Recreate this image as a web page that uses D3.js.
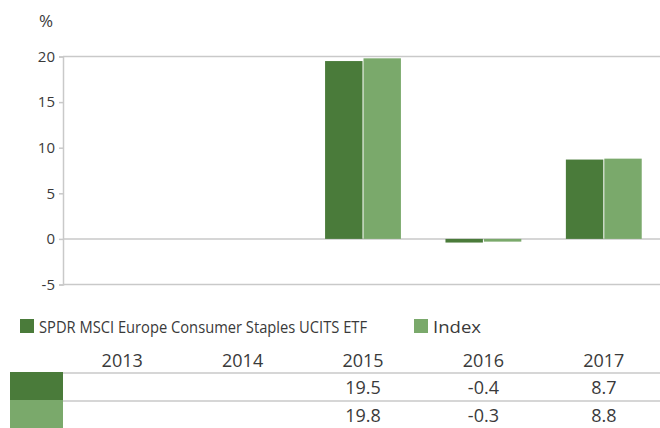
<!DOCTYPE html>
<html>
<head>
<meta charset="utf-8">
<script src="https://cdn.jsdelivr.net/npm/d3@7"></script>
<style>
  body { margin: 0; background: #fff; }
  svg text { font-family: "Open Sans", "Noto Sans", sans-serif; fill: #3a3a3a; }
</style>
</head>
<body>
<div id="vizcont"></div>
<script>
// chart data
var years = ["2013", "2014", "2015", "2016", "2017"];
var fundValues = [null, null, 19.5, -0.4, 8.7];
var indexValues = [null, null, 19.8, -0.3, 8.8];
var seriesNames = ["SPDR MSCI Europe Consumer Staples UCITS ETF", "Index"];
var yTicks = [-5, 0, 5, 10, 15, 20];

var colors = ["#4a7b3a", "#7aa96b"];
var gridColor = "#c9c9c9";

var width = 660, height = 428;

// plain hyphen for negatives, like the original
var fmtTick = function(d) { return String(d); };
var fmtVal = function(d) { return d3.format(".1f")(d).replace("\u2212", "-"); };

var svg = d3.select("#vizcont")
    .append("svg")
    .attr("width", width)
    .attr("height", height);

// scales
var x = d3.scaleBand()
    .domain(years)
    .range([62, 664])
    .paddingInner(0.37)
    .paddingOuter(0.185);
var xCol = d3.scaleBand().domain(years).range([62, 664]);
var x1 = d3.scaleBand().domain([0, 1]).range([0, x.bandwidth()]);
var y = d3.scaleLinear().domain([-5, 20]).range([284.5, 56.5]);

// grid lines at top, zero and bottom
svg.append("g")
    .selectAll("line")
    .data([20, 0, -5])
    .enter().append("line")
    .attr("x1", 63).attr("x2", width)
    .attr("y1", function(d) { return y(d); })
    .attr("y2", function(d) { return y(d); })
    .attr("stroke", gridColor)
    .attr("stroke-width", 1.5);

// y axis
var yAxis = svg.append("g")
    .attr("transform", "translate(63,0)")
    .call(d3.axisLeft(y).tickValues(yTicks).tickFormat(fmtTick).tickSize(4).tickPadding(4));
yAxis.select(".domain").attr("stroke", gridColor).attr("stroke-width", 1.5);
yAxis.selectAll(".tick line").attr("stroke", gridColor).attr("stroke-width", 1.5);
yAxis.selectAll(".tick text")
    .attr("font-size", 15)
    .attr("font-family", null)
    .attr("fill", null);

svg.append("text")
    .attr("x", 46).attr("y", 27)
    .attr("text-anchor", "middle")
    .attr("font-size", 17)
    .text("%");

// bars
var series = [fundValues, indexValues];
series.forEach(function(vals, si) {
    svg.append("g")
        .selectAll("rect")
        .data(years.map(function(yr, i) { return {year: yr, v: vals[i]}; })
            .filter(function(d) { return d.v !== null; }))
        .enter().append("rect")
        .attr("x", function(d) { return x(d.year) + x1(si) + (si === 1 ? 0.5 : 0); })
        .attr("width", x1.bandwidth() - 0.5)
        .attr("y", function(d) { return y(Math.max(0, d.v)); })
        .attr("height", function(d) { return Math.abs(y(d.v) - y(0)); })
        .attr("fill", colors[si]);
});

// legend
var legendX = [20, 414];
var legendLen = [328, 48];
var legend = svg.append("g");
seriesNames.forEach(function(name, i) {
    legend.append("rect")
        .attr("x", legendX[i]).attr("y", 319)
        .attr("width", 14).attr("height", 14)
        .attr("fill", colors[i]);
    legend.append("text")
        .attr("x", legendX[i] + 19).attr("y", 333)
        .attr("font-size", 17)
        .attr("textLength", legendLen[i])
        .attr("lengthAdjust", "spacingAndGlyphs")
        .text(name);
});

// data table
var rowTop = [373, 401];
var table = svg.append("g");
table.selectAll(".yr")
    .data(years)
    .enter().append("text")
    .attr("x", function(d) { return xCol(d) + xCol.bandwidth() / 2; })
    .attr("y", 367)
    .attr("text-anchor", "middle")
    .attr("font-size", 18)
    .text(function(d) { return d; });

series.forEach(function(vals, si) {
    table.append("rect")
        .attr("x", 10).attr("y", rowTop[si] - 1)
        .attr("width", 53).attr("height", 28)
        .attr("fill", colors[si]);
    table.append("line")
        .attr("x1", 63).attr("x2", width)
        .attr("y1", rowTop[si]).attr("y2", rowTop[si])
        .attr("stroke", gridColor).attr("stroke-width", 1.5);
    table.selectAll(".v" + si)
        .data(years.map(function(yr, i) { return {year: yr, v: vals[i]}; })
            .filter(function(d) { return d.v !== null; }))
        .enter().append("text")
        .attr("x", function(d) { return xCol(d.year) + xCol.bandwidth() / 2; })
        .attr("y", rowTop[si] + 21)
        .attr("text-anchor", "middle")
        .attr("font-size", 18)
        .text(function(d) { return fmtVal(d.v); });
});
</script>
</body>
</html>
